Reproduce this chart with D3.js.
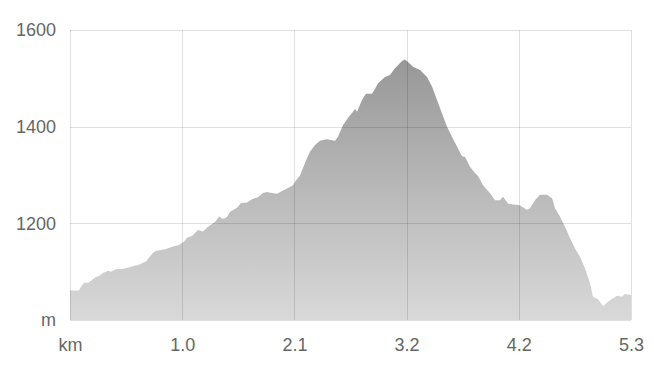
<!DOCTYPE html>
<html>
<head>
<meta charset="utf-8">
<script src="https://cdn.jsdelivr.net/npm/d3@7"></script>
<style>
  html, body { margin: 0; padding: 0; background: #fff; }
  svg { display: block; }
  text { font-family: "Liberation Sans", Arial, sans-serif; }
</style>
</head>
<body>
<svg id="chart" width="654" height="380"></svg>
<script>
// Distance along route (km)
const distanceKm = [
  0.000, 0.085, 0.104, 0.132, 0.170, 0.198, 0.246, 0.274, 0.312, 0.359,
  0.387, 0.435, 0.510, 0.576, 0.642, 0.718, 0.784, 0.812, 0.907, 0.973,
  1.030, 1.077, 1.105, 1.153, 1.209, 1.257, 1.304, 1.370, 1.408, 1.445,
  1.483, 1.512, 1.578, 1.616, 1.672, 1.719, 1.776, 1.823, 1.861, 1.908,
  1.956, 2.003, 2.060, 2.107, 2.126, 2.173, 2.220, 2.267, 2.315, 2.362,
  2.428, 2.504, 2.532, 2.579, 2.626, 2.674, 2.693, 2.711, 2.759, 2.796,
  2.853, 2.881, 2.910, 2.976, 3.023, 3.070, 3.137, 3.165, 3.193, 3.240,
  3.307, 3.373, 3.420, 3.467, 3.514, 3.562, 3.609, 3.656, 3.703, 3.732,
  3.779, 3.826, 3.855, 3.902, 3.968, 4.015, 4.062, 4.091, 4.138, 4.185,
  4.242, 4.317, 4.346, 4.393, 4.440, 4.506, 4.554, 4.582, 4.629, 4.676,
  4.724, 4.771, 4.818, 4.865, 4.913, 4.941, 4.988, 5.036, 5.083, 5.130,
  5.168, 5.215, 5.243, 5.290, 5.300
];
// Elevation (m)
const elevationM = [
  1061, 1061, 1069, 1077, 1077, 1081, 1089, 1091, 1097, 1102,
  1100, 1105, 1106, 1110, 1114, 1121, 1139, 1143, 1147, 1152,
  1155, 1162, 1170, 1174, 1186, 1183, 1193, 1203, 1214, 1209,
  1213, 1224, 1232, 1242, 1243, 1250, 1254, 1263, 1265, 1263,
  1261, 1267, 1273, 1279, 1286, 1299, 1325, 1348, 1362, 1371,
  1374, 1371, 1379, 1403, 1418, 1431, 1437, 1431, 1455, 1468,
  1468, 1478, 1490, 1503, 1507, 1521, 1536, 1539, 1534, 1524,
  1517, 1503, 1483, 1455, 1428, 1400, 1379, 1359, 1339, 1337,
  1317, 1304, 1298, 1279, 1262, 1248, 1248, 1255, 1241, 1239,
  1238, 1228, 1231, 1248, 1259, 1259, 1252, 1231, 1214, 1193,
  1169, 1148, 1131, 1107, 1076, 1048, 1043, 1029, 1038, 1045,
  1050, 1048, 1054, 1052, 1052
];
// Axis ticks
const xTickLabels = ["km", "1.0", "2.1", "3.2", "4.2", "5.3"];
const yTickValues = [1000, 1200, 1400, 1600];
const yTickLabels = ["m", "1200", "1400", "1600"];

(function () {
  const data = distanceKm.map((d, i) => ({ x: d, y: elevationM[i] }));
  const totalKm = 5.3;

  const svg = d3.select("#chart");
  const mLeft = 70, mRight = 631, mTop = 30, mBottom = 320;

  const x = d3.scaleLinear().domain([0, totalKm]).range([mLeft, mRight]);
  const y = d3.scaleLinear().domain([1000, 1600]).range([mBottom, mTop]);

  const xTickValues = xTickLabels.map((_, i) => i * totalKm / (xTickLabels.length - 1));

  // gradient
  const defs = svg.append("defs");
  const grad = defs.append("linearGradient")
    .attr("id", "areaGrad")
    .attr("gradientUnits", "userSpaceOnUse")
    .attr("x1", 0).attr("x2", 0)
    .attr("y1", y(1545)).attr("y2", y(1000));
  grad.append("stop").attr("offset", "0%").attr("stop-color", "#979797");
  grad.append("stop").attr("offset", "100%").attr("stop-color", "#d9d9d9");

  // area
  const area = d3.area()
    .x(d => x(d.x))
    .y0(y(1000))
    .y1(d => y(d.y))
    .curve(d3.curveLinear);

  svg.append("path")
    .datum(data)
    .attr("d", area)
    .attr("fill", "url(#areaGrad)");

  // gridlines (on top)
  const grid = svg.append("g").attr("stroke", "rgba(0,0,0,0.12)").attr("stroke-width", 1).attr("shape-rendering", "crispEdges");
  yTickValues.forEach(v => {
    grid.append("line")
      .attr("x1", mLeft).attr("x2", mRight)
      .attr("y1", Math.round(y(v)) + 0.5).attr("y2", Math.round(y(v)) + 0.5);
  });
  xTickValues.forEach(v => {
    grid.append("line")
      .attr("x1", Math.round(x(v)) + 0.5).attr("x2", Math.round(x(v)) + 0.5)
      .attr("y1", mTop).attr("y2", mBottom);
  });

  // y axis labels
  const yAxis = d3.axisLeft(y)
    .tickValues(yTickValues)
    .tickFormat((d, i) => yTickLabels[i])
    .tickSize(0)
    .tickPadding(14);
  const gy = svg.append("g").attr("transform", `translate(${mLeft},0)`).call(yAxis);
  gy.select(".domain").remove();
  gy.selectAll("text").attr("fill", "#666").style("font-size", "18px")
    .style("font-family", '"Liberation Sans", Arial, sans-serif');

  // x axis labels
  const xAxis = d3.axisBottom(x)
    .tickValues(xTickValues)
    .tickFormat((d, i) => xTickLabels[i])
    .tickSize(0)
    .tickPadding(18);
  const gx = svg.append("g").attr("transform", `translate(0,${mBottom})`).call(xAxis);
  gx.select(".domain").remove();
  gx.selectAll("text").attr("fill", "#666").style("font-size", "18px")
    .style("font-family", '"Liberation Sans", Arial, sans-serif');
})();
</script>
</body>
</html>
